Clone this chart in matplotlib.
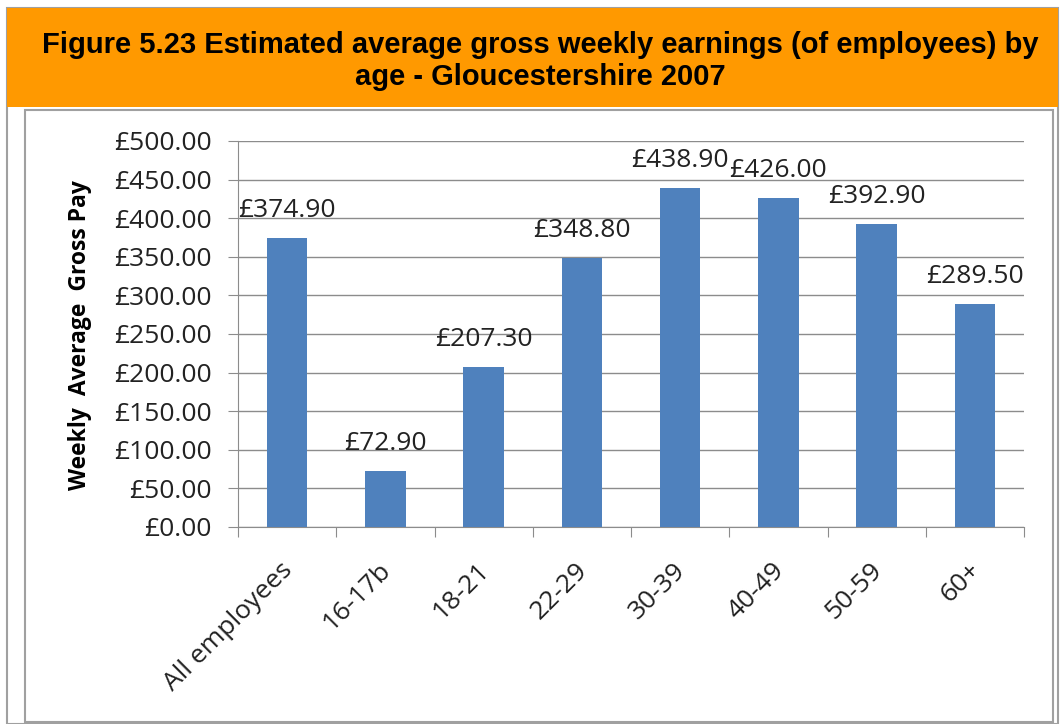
import matplotlib

matplotlib.use("Agg")
import matplotlib.pyplot as plt
from matplotlib.patches import Rectangle
from matplotlib.transforms import ScaledTranslation

categories = ["All employees", "16-17b", "18-21", "22-29", "30-39", "40-49", "50-59", "60+"]
pay = [374.90, 72.90, 207.30, 348.80, 438.90, 426.00, 392.90, 289.50]
y_ticks = [0, 50, 100, 150, 200, 250, 300, 350, 400, 450, 500]

W, H = 1060, 724
fig = plt.figure(figsize=(W / 100, H / 100), dpi=100)

# frame, orange header band, chart box (pixel coords -> figure fraction)
def box(x0, y0, x1, y1, **kw):
    fig.patches.append(Rectangle((x0 / W, 1 - y1 / H), (x1 - x0) / W, (y1 - y0) / H,
                                 transform=fig.transFigure, zorder=-5, **kw))

box(7, 8, 1058, 724, facecolor="white", edgecolor="#a0a0a0", lw=1.5)
box(7, 8, 1058, 107, facecolor="#ff9900", edgecolor="none")
box(25, 110, 1053, 722, facecolor="white", edgecolor="#a0a0a0", lw=1.5)

fig.text(540 / W, 1 - 45 / H, "Figure 5.23 Estimated average gross weekly earnings (of employees) by",
         ha="center", va="center", fontsize=21, fontweight="bold", family="Liberation Sans")
fig.text(540 / W, 1 - 77 / H, "age - Gloucestershire 2007",
         ha="center", va="center", fontsize=21, fontweight="bold", family="Liberation Sans")

font = "Open Sans"
fs = 19
left, right, top, bottom = 238, 1024, 141, 527
ax = fig.add_axes([left / W, 1 - bottom / H, (right - left) / W, (bottom - top) / H])
ax.set_facecolor("none")

x = range(len(categories))
ax.bar(x, pay, width=0.41, color="#4f81bd", zorder=3)
for xi, v in zip(x, pay):
    ax.annotate(f"£{v:.2f}", (xi, v), xytext=(0, 15), textcoords="offset points",
                ha="center", va="baseline", fontsize=fs, family=font, color="#222222")

ax.set_xlim(-0.5, len(categories) - 0.5)
ax.set_ylim(0, 500)
ax.set_yticks(y_ticks)
ax.set_yticklabels([f"£{t:.2f}" for t in y_ticks], family=font, fontsize=fs, color="#222222")
ax.yaxis.grid(True, color="#8c8c8c", lw=1, zorder=0)
ax.tick_params(axis="y", length=7, color="#8c8c8c", pad=12)

ax.set_xticks([i - 0.5 for i in range(len(categories) + 1)], minor=False)
ax.set_xticklabels([])
ax.set_xticks(list(x), minor=True)
ax.set_xticklabels(categories, minor=True, rotation=45, ha="right", va="top",
                   rotation_mode="anchor", family=font, fontsize=fs, color="#222222")
ax.tick_params(axis="x", which="major", length=7, color="#8c8c8c", direction="out")
ax.tick_params(axis="x", which="minor", length=0, pad=22)
shift = ScaledTranslation(-7 / 100, 0, fig.dpi_scale_trans)
for lbl in ax.get_xticklabels(minor=True):
    lbl.set_transform(lbl.get_transform() + shift)

for s in ["top", "right"]:
    ax.spines[s].set_visible(False)
for s in ["left", "bottom"]:
    ax.spines[s].set_color("#8c8c8c")

fig.text(80 / W, 1 - 335 / H, "Weekly  Average  Gross Pay", rotation=90, ha="center",
         va="center", fontsize=16.5, fontweight="bold", family=font)

fig.savefig("out.png", dpi=100)
plt.close(fig)
